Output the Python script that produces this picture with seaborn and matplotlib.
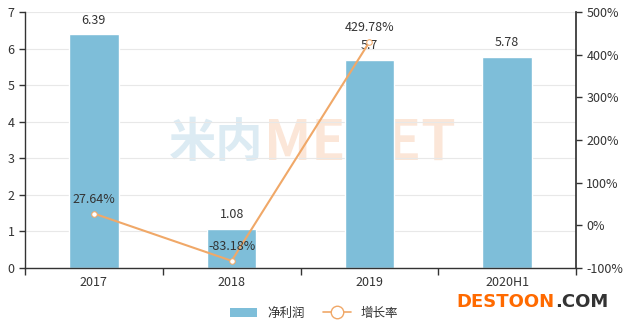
import matplotlib
matplotlib.use("Agg")
import matplotlib.pyplot as plt
import seaborn as sns
import pandas as pd
from matplotlib.patches import Patch
from matplotlib.lines import Line2D

categories = ["2017", "2018", "2019", "2020H1"]
net_profit = [6.39, 1.08, 5.7, 5.78]
profit_labels = ["6.39", "1.08", "5.7", "5.78"]
growth = [27.64, -83.18, 429.78]
growth_labels = ["27.64%", "-83.18%", "429.78%"]
left_ticks = [0, 1, 2, 3, 4, 5, 6, 7]
right_ticks = [-100, 0, 100, 200, 300, 400, 500]

sns.set_theme(style="white")
plt.rcParams['font.family'] = ['Noto Sans CJK SC', 'DejaVu Sans']

FS = 9
fig = plt.figure(figsize=(6.28, 3.26), dpi=100)

# watermark (behind the plot)
fig.text(0.42, 0.56, "米内", fontsize=34, color="#dcebf3", ha="right", va="center", fontweight="bold", zorder=-5)
fig.text(0.42, 0.56, "MENET", fontsize=40, color="#fbe6d8", ha="left", va="center", fontweight="bold", zorder=-5)

ax = fig.add_axes([25/628, 1-268/326, (576-25)/628, (268-12)/326])
ax.patch.set_alpha(0)

df = pd.DataFrame({"cat": categories, "val": net_profit})
sns.barplot(data=df, x="cat", y="val", color="#7ebed9", saturation=1, width=0.36, ax=ax, zorder=2)
ax.set_ylim(0, 7)
ax.set_yticks(left_ticks)
ax.set_xlim(-0.5, 3.5)
ax.set_xlabel("")
ax.set_ylabel("")
ax.grid(axis="y", color="#e8e8e8", linewidth=0.8, zorder=0)
ax.set_axisbelow(True)
for s in ["top", "right"]:
    ax.spines[s].set_visible(False)
for s in ["left", "bottom"]:
    ax.spines[s].set_color("#333333")
    ax.spines[s].set_linewidth(1)
ax.tick_params(axis="both", colors="#333333", labelsize=FS, length=4, width=1, direction="out", left=True, bottom=True)
ax.set_xticks([-0.5, 0.5, 1.5, 2.5, 3.5], minor=False)
ax.set_xticklabels([])
ax.set_xticks([0, 1, 2, 3], minor=True)
ax.set_xticklabels(categories, minor=True)
ax.tick_params(axis="x", which="minor", length=0, pad=6, labelsize=FS, colors="#333333")
ax.tick_params(axis="x", which="major", length=5)

for i, (v, lab) in enumerate(zip(net_profit, profit_labels)):
    ax.text(i, v + 0.2, lab, ha="center", va="bottom", fontsize=FS, color="#333333", zorder=5)

ax2 = ax.twinx()
ax2.patch.set_alpha(0)
ax2.set_ylim(-100, 500)
ax2.set_yticks(right_ticks)
ax2.set_yticklabels([f"{t}%" for t in right_ticks])
for s in ["top", "left", "bottom"]:
    ax2.spines[s].set_visible(False)
ax2.spines["right"].set_color("#333333")
ax2.tick_params(axis="y", colors="#333333", labelsize=FS, length=4, width=1)
gdf = pd.DataFrame({"x": [0, 1, 2], "g": growth})
sns.lineplot(data=gdf, x="x", y="g", ax=ax2, color="#f0a868", linewidth=1.5,
             marker="o", markersize=4, markerfacecolor="white", markeredgecolor="#f0a868", zorder=4)
ax2.set_xlabel("")
ax2.set_ylabel("")
ax2.set_xlim(-0.5, 3.5)
for i, (g, lab) in enumerate(zip(growth, growth_labels)):
    ax2.text(i, g + 18, lab, ha="center", va="bottom", fontsize=FS, color="#333333", zorder=6)

handles = [Patch(facecolor="#7ebed9", edgecolor="none"),
           Line2D([0], [0], color="#f0a868", marker="o", markersize=9, markerfacecolor="white", linewidth=1.2)]
fig.legend(handles, ["净利润", "增长率"], loc="center", bbox_to_anchor=(0.5, 1-313/326), ncol=2,
           frameon=False, fontsize=FS, handlelength=2.2, columnspacing=1.5, labelcolor="#333333")

t1 = fig.text(456/628, 1-302/326, "DESTOON", fontsize=13, color="#ff6a00", ha="left", va="center",
              fontweight="bold", family="DejaVu Sans")
fig.canvas.draw()
bb = t1.get_window_extent()
fig.text(bb.x1/628 + 1/628, 1-302/326, ".COM", fontsize=13, color="#333333", ha="left", va="center",
         fontweight="bold", family="DejaVu Sans")

fig.savefig("out.png", dpi=100)
